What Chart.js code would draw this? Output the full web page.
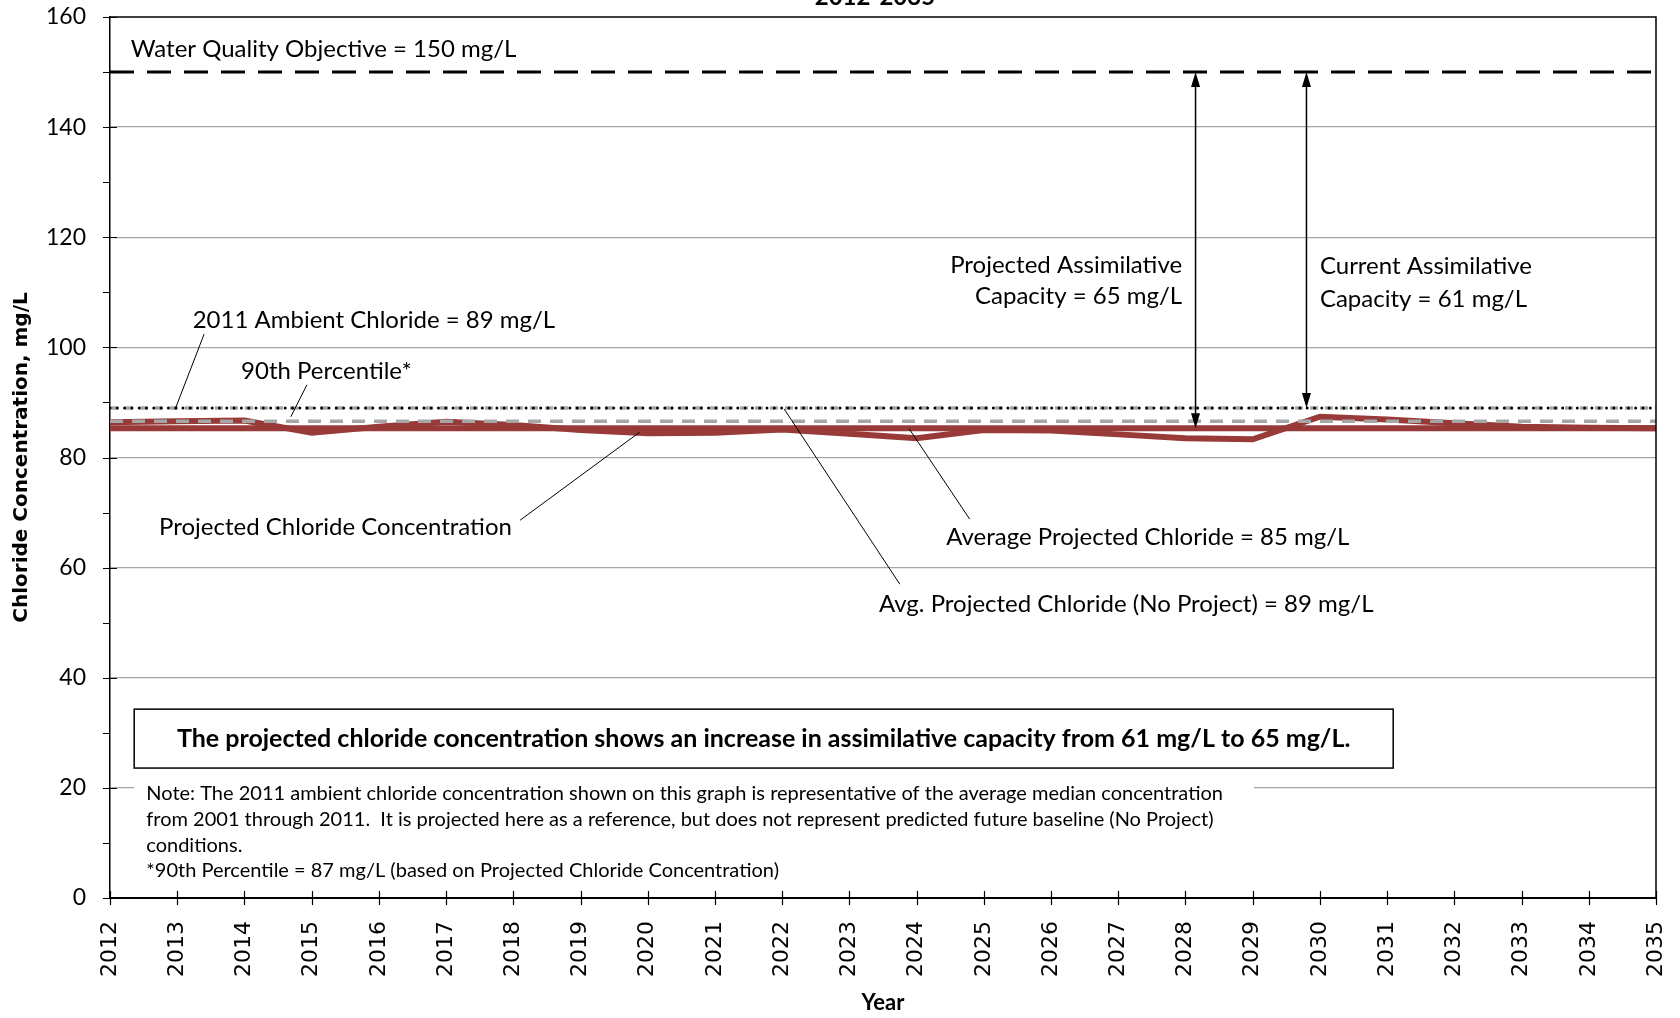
<!DOCTYPE html>
<html lang="en">
<head>
<meta charset="UTF-8">
<title>Projected Chloride Concentration 2012-2035</title>
<script src="https://cdn.jsdelivr.net/npm/chart.js"></script>
<style>
  html, body { margin: 0; padding: 0; background: #fff; }
  #chart { display: block; }
</style>
</head>
<body>
<canvas id="chart" width="1680" height="1018"></canvas>
<script>
// chart values
const years = [2012, 2013, 2014, 2015, 2016, 2017, 2018, 2019, 2020, 2021, 2022, 2023,
               2024, 2025, 2026, 2027, 2028, 2029, 2030, 2031, 2032, 2033, 2034, 2035];
const projectedChloride = [86.4, 86.6, 86.7, 84.5, 85.6, 86.5, 85.9, 85.0, 84.4, 84.5, 85.1, 84.3,
                           83.5, 85.0, 84.9, 84.2, 83.5, 83.3, 87.4, 86.9, 86.2, 85.6, 85.4, 85.3];
const avgProjectedChloride = 85.3;
const ambientChloride2011 = 89;
const avgNoProjectChloride = 89;
const percentile90 = 86.6;
const waterQualityObjective = 150;
const yTickLabels = ['0', '20', '40', '60', '80', '100', '120', '140', '160'];

const RED = '#983a38';
const GRAY = '#a6a6a6';
const TEXT_FONT = 'Lato';

const flat = v => [{ x: years[0], y: v }, { x: years[years.length - 1], y: v }];

// annotation text, in data units (year, mg/L)
const labels = [
  { text: 'Water Quality Objective = 150 mg/L', x: 2012.31, y: 154.2, align: 'left' },
  { text: 'Projected Assimilative', x: 2027.95, y: 115.0, align: 'right' },
  { text: 'Capacity = 65 mg/L', x: 2027.95, y: 109.2, align: 'right' },
  { text: 'Current Assimilative', x: 2030.0, y: 114.8, align: 'left' },
  { text: 'Capacity = 61 mg/L', x: 2030.0, y: 108.8, align: 'left' },
  { text: '2011 Ambient Chloride = 89 mg/L', x: 2013.23, y: 105.0, align: 'left' },
  { text: '90th Percentile*', x: 2013.95, y: 95.7, align: 'left' },
  { text: 'Projected Chloride Concentration', x: 2012.73, y: 67.4, align: 'left' },
  { text: 'Average Projected Chloride = 85 mg/L', x: 2024.44, y: 65.6, align: 'left' },
  { text: 'Avg. Projected Chloride (No Project) = 89 mg/L', x: 2023.44, y: 53.4, align: 'left' }
];
const leaders = [
  [2013.40, 102.4, 2012.97, 88.8],
  [2014.93, 93.2, 2014.69, 87.4],
  [2018.10, 68.6, 2019.88, 84.6],
  [2024.79, 68.8, 2023.89, 85.2],
  [2023.75, 57.0, 2022.03, 88.8]
];
const arrows = [
  { x: 2028.15, from: waterQualityObjective, to: avgProjectedChloride },
  { x: 2029.80, from: waterQualityObjective, to: ambientChloride2011 }
];
const summary = 'The projected chloride concentration shows an increase in assimilative capacity from 61 mg/L to 65 mg/L.';
const noteLines = [
  'Note: The 2011 ambient chloride concentration shown on this graph is representative of the average median concentration',
  'from 2001 through 2011.  It is projected here as a reference, but does not represent predicted future baseline (No Project)',
  'conditions.',
  '*90th Percentile = 87 mg/L (based on Projected Chloride Concentration)'
];
const noteLineY = [18.9, 14.2, 9.6, 4.9];

const notesPlugin = {
  id: 'notes',
  beforeDatasetsDraw(chart) {
    const { ctx, scales: { x, y } } = chart;
    // white backing behind the footnote
    ctx.save();
    ctx.fillStyle = '#fff';
    ctx.fillRect(x.getPixelForValue(2012.36), y.getPixelForValue(22),
                 x.getPixelForValue(2029.02) - x.getPixelForValue(2012.36),
                 y.getPixelForValue(2) - y.getPixelForValue(22));
    ctx.restore();
  },
  afterDraw(chart) {
    const { ctx, chartArea: area, scales: { x, y } } = chart;
    ctx.save();
    ctx.strokeStyle = '#000';
    ctx.fillStyle = '#000';

    // plot frame top and right
    ctx.lineWidth = 1.5;
    ctx.beginPath();
    ctx.moveTo(area.left, area.top);
    ctx.lineTo(area.right, area.top);
    ctx.lineTo(area.right, area.bottom);
    ctx.stroke();

    // cross tick marks
    ctx.lineWidth = 1.2;
    ctx.beginPath();
    y.ticks.forEach(t => {
      const py = Math.round(y.getPixelForValue(t.value)) + 0.5;
      const major = t.value % 20 === 0;
      ctx.moveTo(area.left - 7, py);
      ctx.lineTo(area.left + (major ? 7 : 0), py);
    });
    years.forEach(v => {
      const px = Math.round(x.getPixelForValue(v)) + 0.5;
      ctx.moveTo(px, area.bottom - 7);
      ctx.lineTo(px, area.bottom + 7);
    });
    ctx.stroke();

    // leader lines
    ctx.lineWidth = 1;
    ctx.beginPath();
    leaders.forEach(([x1, y1, x2, y2]) => {
      ctx.moveTo(x.getPixelForValue(x1), y.getPixelForValue(y1));
      ctx.lineTo(x.getPixelForValue(x2), y.getPixelForValue(y2));
    });
    ctx.stroke();

    // double headed arrows
    arrows.forEach(a => {
      const px = x.getPixelForValue(a.x);
      const top = y.getPixelForValue(a.from);
      const bot = y.getPixelForValue(a.to);
      ctx.lineWidth = 1.5;
      ctx.beginPath();
      ctx.moveTo(px, top + 12);
      ctx.lineTo(px, bot - 12);
      ctx.stroke();
      ctx.beginPath();
      ctx.moveTo(px, top);
      ctx.lineTo(px - 4.5, top + 15);
      ctx.lineTo(px + 4.5, top + 15);
      ctx.closePath();
      ctx.moveTo(px, bot);
      ctx.lineTo(px - 4.5, bot - 15);
      ctx.lineTo(px + 4.5, bot - 15);
      ctx.closePath();
      ctx.fill();
    });

    // text labels
    ctx.font = `24px ${TEXT_FONT}`;
    ctx.textBaseline = 'middle';
    labels.forEach(l => {
      ctx.textAlign = l.align;
      ctx.fillText(l.text, x.getPixelForValue(l.x), y.getPixelForValue(l.y));
    });

    // summary box
    const bx1 = x.getPixelForValue(2012.36), bx2 = x.getPixelForValue(2031.09);
    const by1 = y.getPixelForValue(34.3), by2 = y.getPixelForValue(23.6);
    ctx.fillStyle = '#fff';
    ctx.fillRect(bx1, by1, bx2 - bx1, by2 - by1);
    ctx.lineWidth = 1.5;
    ctx.strokeRect(bx1, by1, bx2 - bx1, by2 - by1);
    ctx.fillStyle = '#000';
    ctx.font = `bold 25px ${TEXT_FONT}`;
    ctx.textAlign = 'center';
    ctx.fillText(summary, (bx1 + bx2) / 2, (by1 + by2) / 2);

    // footnote
    ctx.font = `20px ${TEXT_FONT}`;
    ctx.textAlign = 'left';
    noteLines.forEach((line, i) => {
      ctx.fillText(line, x.getPixelForValue(2012.54), y.getPixelForValue(noteLineY[i]));
    });

    // chart title, mostly cut off by the top edge
    ctx.font = `bold 24px ${TEXT_FONT}`;
    ctx.textAlign = 'center';
    ctx.textBaseline = 'alphabetic';
    ctx.fillText('2012-2035', x.getPixelForValue(2023.38), y.getPixelForValue(162.2));
    ctx.restore();
  }
};

const noPad = s => { s.paddingTop = 0; s.paddingBottom = 0; s.paddingLeft = 0; s.paddingRight = 0; };

new Chart(document.getElementById('chart').getContext('2d'), {
  type: 'line',
  data: {
    datasets: [
      { label: 'Water Quality Objective', data: flat(waterQualityObjective), borderColor: '#000',
        borderWidth: 3, borderDash: [24, 13], order: 1 },
      { label: '90th Percentile', data: flat(percentile90), borderColor: GRAY,
        borderWidth: 3.5, borderDash: [13, 9], order: 2 },
      { label: '2011 Ambient Chloride', data: flat(ambientChloride2011), borderColor: '#000',
        borderWidth: 3, borderDash: [0, 7.3], borderCapStyle: 'round', order: 3 },
      { label: 'Avg. Projected Chloride (No Project)', data: flat(avgNoProjectChloride), borderColor: GRAY,
        borderWidth: 3.5, borderDash: [8, 7], order: 4 },
      { label: 'Projected Chloride Concentration', data: years.map((yr, i) => ({ x: yr, y: projectedChloride[i] })),
        borderColor: RED, borderWidth: 6, order: 5 },
      { label: 'Average Projected Chloride', data: flat(avgProjectedChloride), borderColor: RED,
        borderWidth: 6, order: 6 }
    ]
  },
  options: {
    responsive: false,
    animation: false,
    layout: { padding: { top: 17, right: 24, left: 0, bottom: 0 } },
    elements: { point: { radius: 0 }, line: { tension: 0, fill: false } },
    plugins: { legend: { display: false }, tooltip: { enabled: false } },
    scales: {
      x: {
        type: 'linear',
        min: years[0],
        max: years[years.length - 1],
        afterFit: s => { s.height = 120; noPad(s); },
        grid: { display: false },
        border: { color: '#000', width: 2 },
        ticks: {
          stepSize: 1,
          autoSkip: false,
          minRotation: 90,
          maxRotation: 90,
          padding: 15,
          color: '#000',
          font: { family: 'DejaVu Sans', size: 22 },
          callback: v => (years.includes(v) ? String(v) : '')
        },
        title: {
          display: true,
          text: 'Year',
          color: '#000',
          padding: { top: 0, bottom: 2 },
          font: { family: TEXT_FONT, weight: 'bold', size: 22 }
        }
      },
      y: {
        min: 0,
        max: 160,
        afterFit: s => { s.width = 110; noPad(s); },
        grid: {
          drawTicks: false,
          lineWidth: 1.3,
          color: c => (c.tick && c.tick.value % 20 === 0 && c.tick.value > 0 && c.tick.value < 160 ? GRAY : 'rgba(0,0,0,0)')
        },
        border: { color: '#000', width: 1.5 },
        ticks: {
          stepSize: 10,
          padding: 24,
          color: '#000',
          font: { family: TEXT_FONT, size: 23 },
          callback: v => (v % 20 === 0 ? yTickLabels[v / 20] : '')
        },
        title: {
          display: true,
          text: 'Chloride Concentration, mg/L',
          color: '#000',
          padding: { top: 10, bottom: 0 },
          font: { family: 'DejaVu Sans', weight: 'bold', size: 20 }
        }
      }
    }
  },
  plugins: [notesPlugin]
});
</script>
</body>
</html>
